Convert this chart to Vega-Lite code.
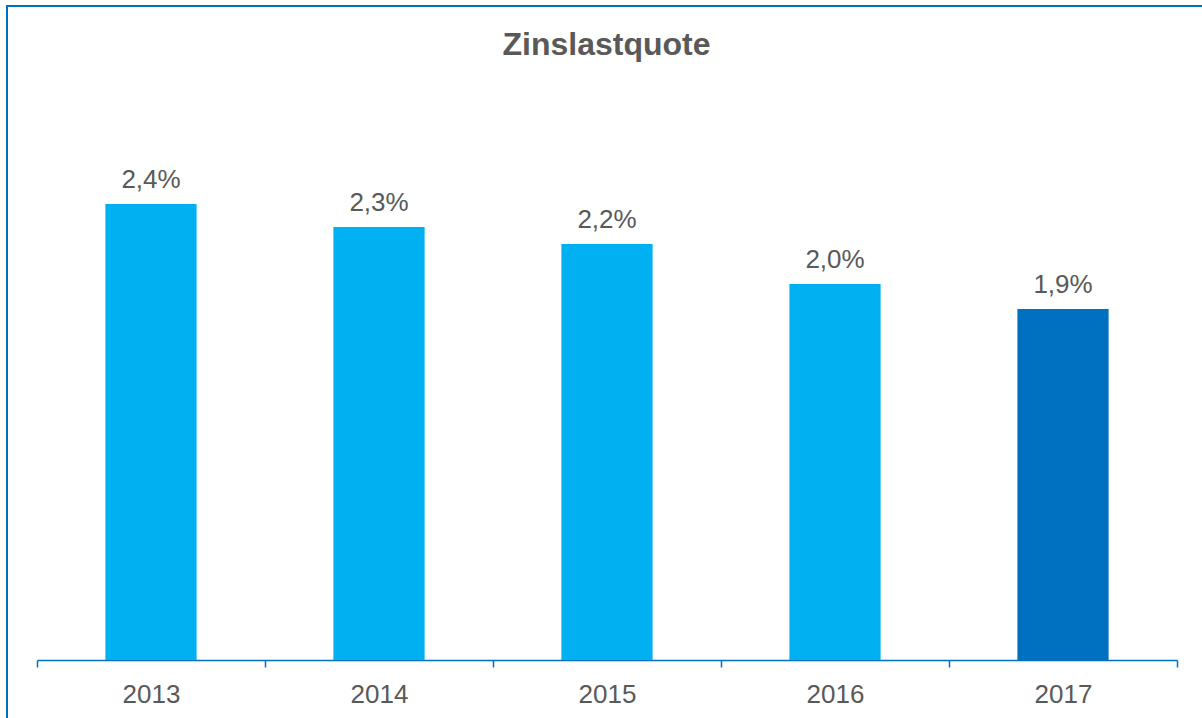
{
  "$schema": "https://vega.github.io/schema/vega-lite/v6.json",
  "width": 1195,
  "height": 712,
  "autosize": {"type": "none"},
  "padding": {"left": 7, "top": 6, "right": 0, "bottom": 0},
  "background": "white",
  "title": {
    "text": "Zinslastquote",
    "fontSize": 32,
    "fontWeight": "bold",
    "color": "#595959",
    "font": "Liberation Sans",
    "anchor": "middle",
    "frame": "group",
    "baseline": "alphabetic",
    "dx": 2,
    "offset": -81
  },
  "data": {
    "values": [
      {"year": "2013", "quote": 0.02426},
      {"year": "2014", "quote": 0.02303},
      {"year": "2015", "quote": 0.02213},
      {"year": "2016", "quote": 0.0200},
      {"year": "2017", "quote": 0.01867}
    ]
  },
  "encoding": {
    "x": {
      "field": "year",
      "type": "nominal",
      "sort": null,
      "scale": {"range": [30, 1170], "paddingInner": 0, "paddingOuter": 0},
      "axis": {
        "title": null,
        "domainColor": "#0070C0",
        "domainWidth": 1.5,
        "tickColor": "#0070C0",
        "tickWidth": 1.5,
        "tickSize": 7,
        "tickBand": "extent",
        "labelFontSize": 26,
        "labelColor": "#595959",
        "labelFont": "Liberation Sans",
        "labelPadding": 14,
        "labelAngle": 0,
        "offset": -58,
        "grid": false
      }
    },
    "y": {
      "field": "quote",
      "type": "quantitative",
      "scale": {"domain": [0, 0.03], "range": [654, 90]},
      "axis": null
    }
  },
  "layer": [
    {
      "mark": {"type": "bar", "width": {"band": 0.4}},
      "encoding": {
        "color": {
          "field": "year",
          "type": "nominal",
          "sort": null,
          "scale": {"range": ["#00B0F0", "#00B0F0", "#00B0F0", "#00B0F0", "#0070C0"]},
          "legend": null
        }
      }
    },
    {
      "mark": {
        "type": "text",
        "baseline": "alphabetic",
        "dy": -16,
        "fontSize": 26,
        "color": "#595959",
        "font": "Liberation Sans"
      },
      "encoding": {
        "text": {"field": "quote", "type": "quantitative", "format": ".1%"}
      }
    }
  ],
  "config": {
    "locale": {
      "number": {"decimal": ",", "thousands": ".", "grouping": [3], "currency": ["", " €"]}
    },
    "view": {"stroke": "#0070C0", "strokeWidth": 2, "strokeDash": [1195, 1907, 712]}
  }
}
